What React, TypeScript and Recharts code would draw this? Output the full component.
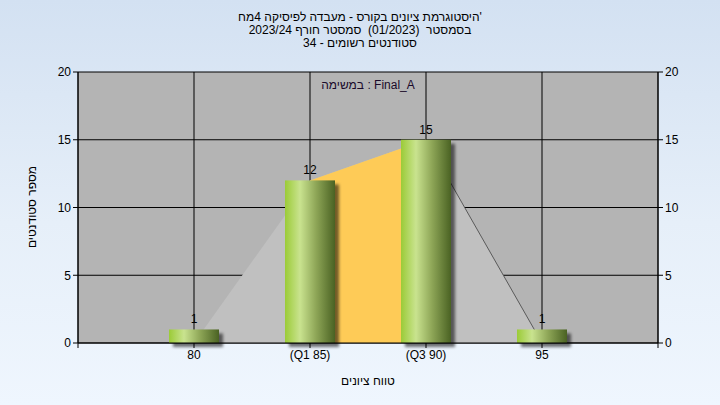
import React from "react";
import {
  ComposedChart,
  Bar,
  Area,
  XAxis,
  YAxis,
  CartesianGrid,
  LabelList,
} from "recharts";

const gradeLabels = ["80", "(Q1 85)", "(Q3 90)", "95"];
const studentCounts = [1, 12, 15, 1];
const curveValues = [0, 12, 15, 0];
const iqrValues = [null, 12, 15, null];
const tailValues = [null, null, 15, 0];
const yTicks = [0, 5, 10, 15, 20];

const titleLines = [
  "'היסטוגרמת ציונים בקורס - מעבדה לפיסיקה 4מח",
  "בסמסטר  (01/2023)  סמסטר חורף 2023/24",
  "סטודנטים רשומים - 34",
];

const FONT = "'Liberation Sans', Arial, sans-serif";

const rows = gradeLabels.map((label, i) => ({
  x: i + 1,
  label,
  count: studentCounts[i],
  curve: curveValues[i],
  iqr: iqrValues[i],
  tail: tailValues[i],
}));

// eslint-disable-next-line @typescript-eslint/no-explicit-any
function GreenBar(props: any) {
  const { x, y, width, height, index } = props;
  if (!height || height <= 0) return null;
  const gid = `barGrad${index}`;
  const fid = `barShadow${index}`;
  return (
    <g>
      <defs>
        <linearGradient id={gid} x1="0" y1="0" x2="1" y2="0">
          <stop offset="0%" stopColor="#9bcb37" />
          <stop offset="30%" stopColor="#c9e38f" />
          <stop offset="62%" stopColor="#8ea657" />
          <stop offset="100%" stopColor="#4a6223" />
        </linearGradient>
        <filter id={fid} x="-20%" y="-20%" width="150%" height="150%">
          <feGaussianBlur stdDeviation="1.6" />
        </filter>
      </defs>
      <rect
        x={x + 4}
        y={y + 4}
        width={width}
        height={height}
        fill="rgba(0,0,0,0.55)"
        filter={`url(#${fid})`}
      />
      <rect x={x} y={y} width={width} height={height} fill={`url(#${gid})`} />
    </g>
  );
}

export default function App() {
  return (
    <div
      style={{
        position: "fixed",
        left: 0,
        top: 0,
        width: 720,
        height: 405,
        background: "linear-gradient(180deg, #d3e1f2 0%, #e6eff9 55%, #eff6fe 100%)",
        fontFamily: FONT,
        overflow: "hidden",
      }}>
      <div
        style={{
          position: "absolute",
          left: 0,
          top: 11,
          width: 720,
          textAlign: "center",
          fontSize: 12,
          lineHeight: "13px",
          color: "#000",
        }}>
        {titleLines.map((t) => (
          <div key={t} dir="rtl" style={{ whiteSpace: "pre" }}>
            {t}
          </div>
        ))}
      </div>

      <ComposedChart
        width={720}
        height={405}
        data={rows}
        margin={{ top: 72, right: 22, bottom: 32, left: 38 }}
        style={{ position: "absolute", left: 0, top: 0 }}>
        <CartesianGrid stroke="#000" fill="#b4b4b4" strokeWidth={1} />
        <XAxis
          dataKey="x"
          type="number"
          domain={[0, 5]}
          ticks={[0, 1, 2, 3, 4, 5]}
          tickFormatter={(v: number) => (v >= 1 && v <= 4 ? gradeLabels[v - 1] : "")}
          height={30}
          tickSize={5}
          axisLine={{ stroke: "#000" }}
          tickLine={{ stroke: "#000" }}
          tick={{ fill: "#000", fontSize: 12, fontFamily: FONT }}
          interval={0}
        />
        <YAxis
          domain={[0, 20]}
          ticks={yTicks}
          width={40}
          tickSize={5}
          axisLine={{ stroke: "#000" }}
          tickLine={{ stroke: "#000" }}
          tick={{ fill: "#000", fontSize: 12, fontFamily: FONT }}
        />
        <YAxis
          yAxisId="r"
          orientation="right"
          domain={[0, 20]}
          ticks={yTicks}
          width={40}
          tickSize={5}
          axisLine={{ stroke: "#000" }}
          tickLine={{ stroke: "#000" }}
          tick={{ fill: "#000", fontSize: 12, fontFamily: FONT }}
        />
        <Area
          dataKey="curve"
          type="linear"
          fill="#c0c0c0"
          fillOpacity={1}
          stroke="none"
          isAnimationActive={false}
        />
        <Area
          dataKey="iqr"
          type="linear"
          fill="#fecb57"
          fillOpacity={1}
          stroke="none"
          isAnimationActive={false}
        />
        <Area
          dataKey="tail"
          yAxisId="r"
          type="linear"
          fill="none"
          fillOpacity={0}
          stroke="#5a5a5a"
          strokeWidth={1}
          dot={false}
          activeDot={false}
          isAnimationActive={false}
        />
        <Bar dataKey="count" barSize={50} shape={<GreenBar />} isAnimationActive={false}>
          <LabelList
            dataKey="count"
            position="top"
            offset={6}
            fill="#000"
            fontSize={12}
            fontFamily={FONT}
          />
        </Bar>
      </ComposedChart>

      <div
        style={{
          position: "absolute",
          left: 268,
          top: 78,
          width: 200,
          textAlign: "center",
          fontSize: 12,
          color: "#1a0a2a",
        }}>
        במשימה : Final_A
      </div>

      <div
        style={{
          position: "absolute",
          left: 268,
          top: 374,
          width: 200,
          textAlign: "center",
          fontSize: 12,
          color: "#000",
        }}>
        טווח ציונים
      </div>

      <div
        style={{
          position: "absolute",
          left: 32,
          top: 207,
          width: 0,
          height: 0,
        }}>
        <div
          style={{
            position: "absolute",
            width: 160,
            left: -80,
            top: -8,
            textAlign: "center",
            fontSize: 12,
            lineHeight: "16px",
            color: "#000",
            transform: "rotate(-90deg)",
            whiteSpace: "nowrap",
          }}>
          מספר סטודנטים
        </div>
      </div>
    </div>
  );
}
